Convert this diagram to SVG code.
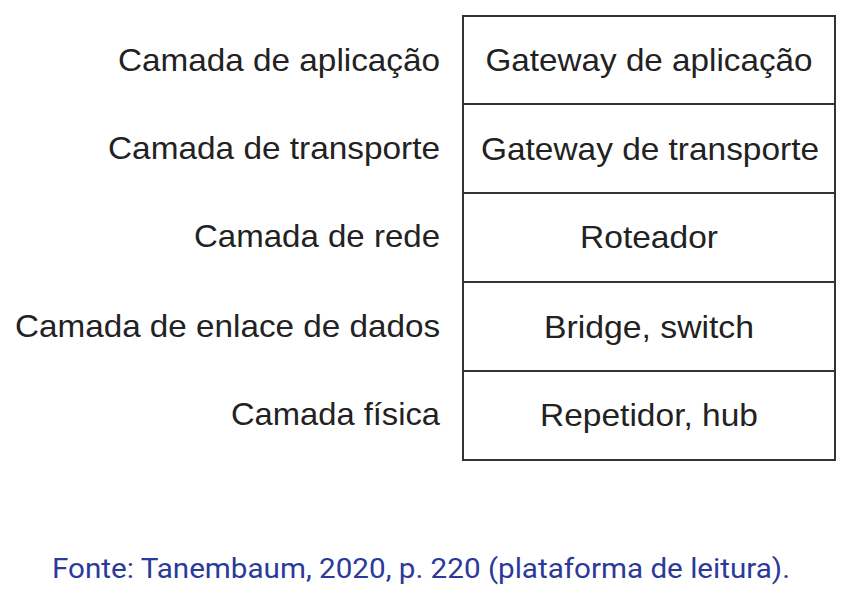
<svg xmlns="http://www.w3.org/2000/svg" width="849" height="592" viewBox="0 0 849 592">
<style>
.lbl{font-family:"Liberation Sans",Arial,sans-serif;font-size:32px;fill:#222}
.r{text-anchor:end}
.c{text-anchor:middle}
.box{fill:#fff;stroke:#333;stroke-width:2}
.src{font-family:Roboto,"Noto Sans",sans-serif;font-size:28px;fill:#2b3a9a}
</style>
<rect width="849" height="592" fill="#fff"/>
<g id="labels">
<text class="lbl r" x="440" y="71" textLength="322" lengthAdjust="spacingAndGlyphs">Camada de aplicação</text>
<text class="lbl r" x="440" y="159" textLength="332" lengthAdjust="spacingAndGlyphs">Camada de transporte</text>
<text class="lbl r" x="440" y="247" textLength="246" lengthAdjust="spacingAndGlyphs">Camada de rede</text>
<text class="lbl r" x="440" y="337" textLength="425" lengthAdjust="spacingAndGlyphs">Camada de enlace de dados</text>
<text class="lbl r" x="440" y="425" textLength="209" lengthAdjust="spacingAndGlyphs">Camada física</text>
</g>
<g id="n1"><rect class="box" x="463" y="16" width="372" height="88"/><text class="lbl c" x="649" y="71" textLength="327" lengthAdjust="spacingAndGlyphs">Gateway de aplicação</text></g>
<g id="n2"><rect class="box" x="463" y="104" width="372" height="89"/><text class="lbl c" x="650" y="160" textLength="338" lengthAdjust="spacingAndGlyphs">Gateway de transporte</text></g>
<g id="n3"><rect class="box" x="463" y="193" width="372" height="89"/><text class="lbl c" x="649" y="248" textLength="138" lengthAdjust="spacingAndGlyphs">Roteador</text></g>
<g id="n4"><rect class="box" x="463" y="282" width="372" height="89"/><text class="lbl c" x="649" y="338" textLength="210" lengthAdjust="spacingAndGlyphs">Bridge, switch</text></g>
<g id="n5"><rect class="box" x="463" y="371" width="372" height="89"/><text class="lbl c" x="649" y="426" textLength="218" lengthAdjust="spacingAndGlyphs">Repetidor, hub</text></g>
<g id="connectors"></g>
<text class="src" x="52" y="578" textLength="738" lengthAdjust="spacingAndGlyphs">Fonte: Tanembaum, 2020, p. 220 (plataforma de leitura).</text>
</svg>
